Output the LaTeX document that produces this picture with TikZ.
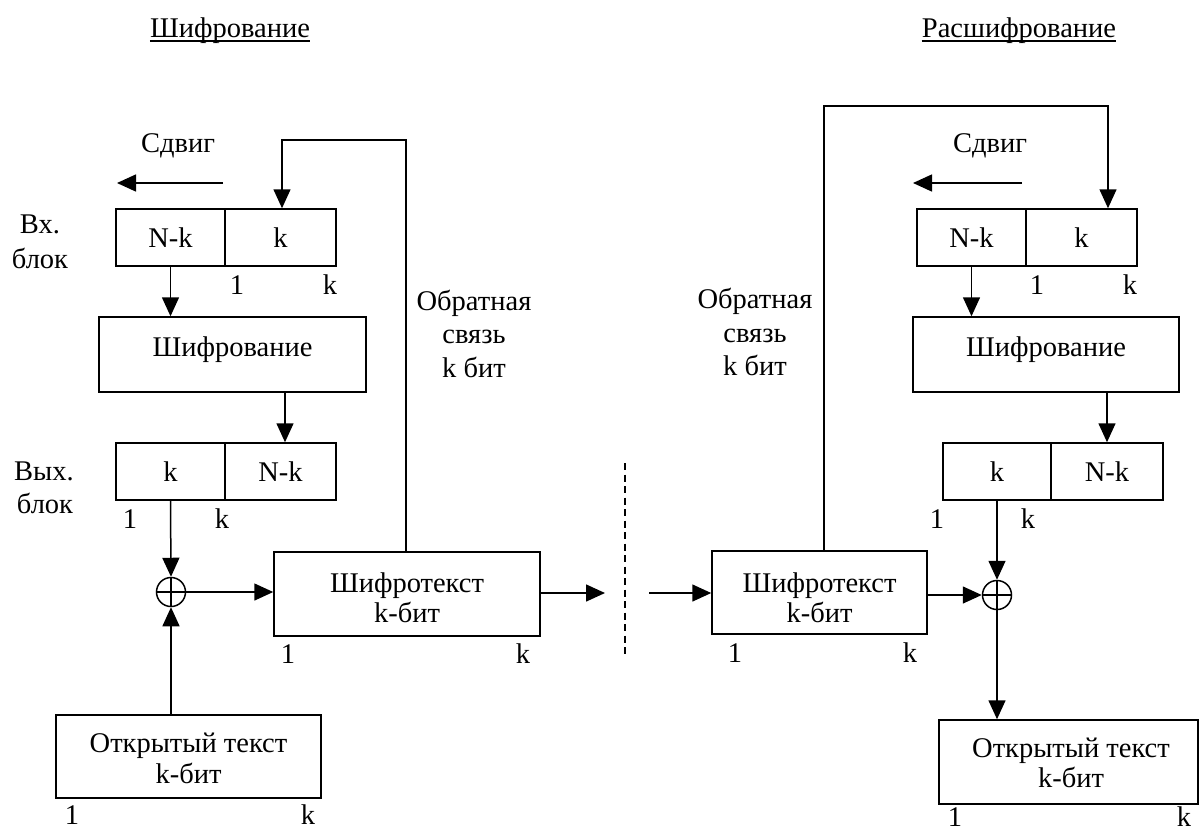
\documentclass[tikz,border=0pt]{standalone}
\usepackage{fontspec}
\setmainfont{Liberation Serif}
\usetikzlibrary{arrows.meta}
\begin{document}
\begin{tikzpicture}[x=1pt,y=-1pt,
  every node/.style={font=\fontsize{28.5}{33}\selectfont, inner sep=0pt},
  cell/.style={draw, line width=1.5pt, minimum height=57pt},
  block/.style={draw, line width=1.5pt},
  txt/.style={anchor=base},
  xorc/.style={draw, circle, line width=1.5pt, minimum size=29pt,
    path picture={\draw[line width=1.5pt]
      (path picture bounding box.north) -- (path picture bounding box.south)
      (path picture bounding box.west) -- (path picture bounding box.east);}},
  arr/.style={line width=1.5pt, -{Triangle[length=19pt,width=17pt]}},
  sep/.style={line width=1.4pt, dash pattern=on 7pt off 4.5pt}]
\useasboundingbox (0,0) rectangle (1202,831);

% ---------- headers ----------
\node[txt] (hdrL) at (230,37) {Шифрование};
\node[txt] (hdrR) at (1019,37) {Расшифрование};
\draw[line width=1.8pt] ([yshift=-4pt]hdrL.base west) -- ([yshift=-4pt]hdrL.base east);
\draw[line width=1.8pt] ([yshift=-4pt]hdrR.base west) -- ([yshift=-4pt]hdrR.base east);

% ================= encryption side =================
\node[txt] (shL) at (178,152) {Сдвиг};
\coordinate (shL1) at (223,183);
\coordinate (shL2) at (117,183);
\draw[arr] (shL1) -- (shL2);

\node[txt] (inLabL1) at (40,233) {Вх.};
\node[txt] (inLabL2) at (40,268) {блок};
\node[cell, minimum width=109pt] (inNKL) at (170.5,237.5) {N-k};
\node[cell, minimum width=111pt] (inKL) at (280.5,237.5) {k};
\node[txt] (inL1) at (237,294) {1};
\node[txt] (inLk) at (330,294) {k};

\node[block, minimum width=267pt, minimum height=75pt] (encL) at (232.5,354.5) {};
\node[txt] (encLt) at (232.5,356) {Шифрование};

\node[txt] (outLabL1) at (44,480) {Вых.};
\node[txt] (outLabL2) at (45,513) {блок};
\node[cell, minimum width=109pt] (outKL) at (170.5,471.5) {k};
\node[cell, minimum width=111pt] (outNKL) at (280.5,471.5) {N-k};
\node[txt] (outL1) at (130,528) {1};
\node[txt] (outLk) at (222,528) {k};

\node[xorc] (xL) at (171,592) {};

\node[block, minimum width=266pt, minimum height=84pt] (ctL) at (407,594) {};
\node[txt] (ctLt1) at (407,592) {Шифротекст};
\node[txt] (ctLt2) at (407,622) {k-бит};
\node[txt] (ctL1) at (288,663) {1};
\node[txt] (ctLk) at (523,663) {k};

\node[block, minimum width=265pt, minimum height=83pt] (ptL) at (188.5,756.5) {};
\node[txt] (ptLt1) at (188.5,752) {Открытый текст};
\node[txt] (ptLt2) at (188.5,783) {k-бит};
\node[txt] (ptL1) at (72,824) {1};
\node[txt] (ptLk) at (308,824) {k};

\node[txt] (fbLt1) at (474,310) {Обратная};
\node[txt] (fbLt2) at (474,343) {связь};
\node[txt] (fbLt3) at (474,377) {k бит};

% connectors
\coordinate (fbL) at (282,140);
\draw[arr] (ctL.north -| 406,0) |- (fbL) -- (fbL |- inKL.north);
\draw[arr] (inNKL.south) -- (inNKL.south |- encL.north);
\coordinate (encOutL) at ([xshift=4.5pt]outNKL.north);
\draw[arr] (encL.south -| encOutL) -- (encOutL);
\draw[arr] (outKL.south) -- (xL.north);
\draw[arr] (xL.east) -- (xL.east -| ctL.west);
\draw[arr] (ptL.north -| xL) -- (xL.south);
\coordinate (sendL) at (605,593);
\draw[arr] (ctL.east |- sendL) -- (sendL);

% channel boundary
\coordinate (d1) at (625,463);
\coordinate (d2) at (625,658);
\draw[sep] (d1) -- (d2);

% ================= decryption side =================
\coordinate (recvR) at (649,593);

\node[txt] (shR) at (990,152) {Сдвиг};
\coordinate (shR1) at (1022,183);
\coordinate (shR2) at (913,183);
\draw[arr] (shR1) -- (shR2);

\node[cell, minimum width=109pt] (inNKR) at (971.5,237.5) {N-k};
\node[cell, minimum width=111pt] (inKR) at (1081.5,237.5) {k};
\node[txt] (inR1) at (1037,294) {1};
\node[txt] (inRk) at (1130,294) {k};

\node[block, minimum width=266pt, minimum height=75pt] (encR) at (1046,354.5) {};
\node[txt] (encRt) at (1046,356) {Шифрование};

\node[cell, minimum width=108pt] (outKR) at (997,471.5) {k};
\node[cell, minimum width=112pt] (outNKR) at (1107,471.5) {N-k};
\node[txt] (outR1) at (937,528) {1};
\node[txt] (outRk) at (1028,528) {k};

\node[xorc] (xR) at (997,595) {};

\node[block, minimum width=215pt, minimum height=83pt] (ctR) at (819.5,592.5) {};
\node[txt] (ctRt1) at (819.5,592) {Шифротекст};
\node[txt] (ctRt2) at (819.5,622) {k-бит};
\node[txt] (ctR1) at (735,662) {1};
\node[txt] (ctRk) at (910,662) {k};

\node[block, minimum width=259pt, minimum height=84pt] (ptR) at (1068.5,762) {};
\node[txt] (ptRt1) at (1071,757) {Открытый текст};
\node[txt] (ptRt2) at (1071,787) {k-бит};
\node[txt] (ptR1) at (955,826) {1};
\node[txt] (ptRk) at (1184,826) {k};

\node[txt] (fbRt1) at (755,308) {Обратная};
\node[txt] (fbRt2) at (755,342) {связь};
\node[txt] (fbRt3) at (755,375) {k бит};

% connectors
\draw[arr] (recvR) -- (recvR -| ctR.west);
\draw[arr] (ctR.east |- xR) -- (xR.west);
\draw[arr] (outKR.south) -- (xR.north);
\draw[arr] (xR.south) -- (xR.south |- ptR.north);
\coordinate (fbR) at (1108,106);
\draw[arr] (ctR.north -| 824,0) |- (fbR) -- (fbR |- inKR.north);
\draw[arr] (inNKR.south) -- (inNKR.south |- encR.north);
\draw[arr] (encR.south -| outNKR.north) -- (outNKR.north);
\end{tikzpicture}
\end{document}
